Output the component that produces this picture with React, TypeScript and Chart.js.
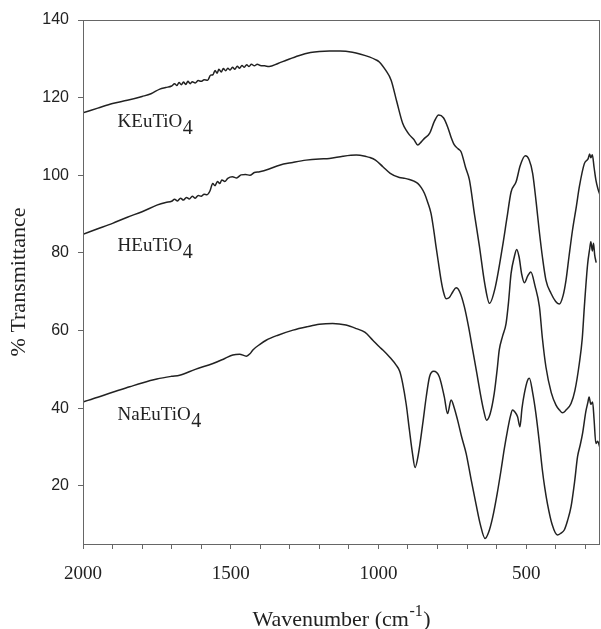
import React, { useEffect, useRef } from "react";
import { Chart, registerables } from "chart.js";

Chart.register(...registerables);

// ---- Data (wavenumber in cm-1, % transmittance) ----
const kWave = [2000, 1950, 1900, 1850, 1800, 1770, 1740, 1720, 1700, 1690, 1682, 1675, 1667, 1660, 1652, 1645, 1637, 1630, 1620, 1610, 1600, 1590, 1578, 1568, 1560, 1553, 1546, 1540, 1532, 1525, 1517, 1510, 1502, 1494, 1486, 1478, 1470, 1462, 1454, 1446, 1438, 1430, 1420, 1410, 1400, 1385, 1370, 1340, 1310, 1270, 1230, 1200, 1166, 1130, 1088, 1060, 1031, 1010, 997, 975, 957, 938, 918, 905, 895, 880, 867, 855, 844, 827, 810, 796, 780, 766, 755, 743, 730, 720, 705, 692, 675, 658, 640, 624, 605, 580, 565, 551, 534, 520, 503, 490, 478, 466, 456, 445, 433, 416, 400, 388, 375, 365, 355, 343, 330, 320, 303, 290, 285, 281, 276, 270, 264, 257, 250];
const kTrans = [116.1, 117.3, 118.5, 119.3, 120.3, 121.0, 122.2, 122.6, 123.0, 123.6, 123.1, 123.9, 123.3, 124.0, 123.4, 124.2, 123.6, 124.1, 123.8, 124.4, 124.2, 124.6, 124.5, 125.8, 125.9, 127.0, 126.3, 127.3, 126.6, 127.5, 126.9, 127.6, 127.1, 127.8, 127.3, 128.1, 127.6, 128.3, 127.8, 128.5, 128.0, 128.6, 128.2, 128.6, 128.3, 128.2, 128.0, 128.8, 129.7, 130.8, 131.6, 131.9, 132.0, 132.0, 131.7, 131.2, 130.5, 129.8, 129.2, 127.0, 124.5, 119.0, 113.4, 111.5, 110.4, 109.2, 107.8, 108.6, 109.5, 110.8, 114.0, 115.5, 114.8, 112.5, 110.0, 107.8, 106.8, 106.0, 102.0, 98.8, 90.0, 81.6, 72.0, 67.0, 71.0, 81.6, 89.0, 95.7, 98.3, 102.5, 105.0, 104.0, 100.5, 93.0, 85.9, 79.0, 73.0, 69.6, 67.5, 66.8, 69.0, 73.0, 79.0, 85.9, 92.0, 97.0, 103.0, 104.3, 105.5, 104.5, 105.3, 102.0, 98.8, 96.5, 94.9];

const hWave = [2000, 1950, 1900, 1850, 1800, 1750, 1720, 1700, 1690, 1680, 1670, 1660, 1650, 1640, 1630, 1620, 1610, 1600, 1590, 1580, 1570, 1561, 1553, 1545, 1537, 1530, 1520, 1510, 1494, 1480, 1465, 1450, 1435, 1420, 1402, 1370, 1335, 1290, 1245, 1200, 1166, 1120, 1075, 1040, 1030, 1010, 985, 960, 929, 910, 895, 880, 867, 855, 844, 833, 822, 813, 805, 796, 788, 780, 771, 760, 748, 737, 725, 709, 695, 681, 667, 653, 644, 634, 622, 608, 598, 591, 580, 568, 560, 551, 540, 532, 524, 515, 506, 495, 484, 470, 455, 445, 433, 415, 399, 387, 377, 365, 348, 335, 320, 310, 303, 292, 285, 281, 276, 272, 268, 263];
const hTrans = [84.8, 86.2, 87.6, 89.2, 90.6, 92.3, 93.0, 93.3, 93.8, 93.4, 94.1, 93.6, 94.3, 93.9, 94.6, 94.1, 94.8, 94.6, 95.1, 95.0, 96.0, 97.9, 97.3, 98.4, 97.9, 98.8, 98.4, 99.2, 99.6, 99.3, 100.1, 100.2, 100.0, 100.7, 100.9, 101.6, 102.6, 103.3, 103.9, 104.2, 104.3, 104.9, 105.2, 104.8, 104.6, 103.9, 102.2, 100.5, 99.4, 99.2, 98.9, 98.5, 97.9, 96.8, 95.3, 93.0, 90.2, 86.0, 81.6, 77.0, 73.0, 70.0, 68.2, 68.5, 70.0, 71.0, 70.0, 66.1, 61.0, 55.0, 49.0, 42.9, 39.5, 36.9, 38.5, 43.8, 50.0, 55.0, 58.5, 61.8, 67.0, 74.7, 79.0, 80.9, 79.0, 74.5, 72.3, 74.0, 75.1, 71.5, 66.1, 58.0, 50.6, 44.0, 40.8, 39.5, 38.8, 39.5, 41.2, 44.5, 51.5, 58.0, 66.1, 77.0, 81.0, 82.9, 80.5, 82.5, 79.5, 77.5];

const naWave = [2000, 1950, 1900, 1842, 1800, 1750, 1700, 1673, 1620, 1560, 1520, 1493, 1470, 1447, 1435, 1425, 1400, 1380, 1340, 1289, 1240, 1200, 1155, 1110, 1075, 1045, 1019, 997, 985, 960, 940, 928, 918, 906, 895, 885, 876, 865, 850, 838, 827, 813, 794, 777, 766, 754, 743, 732, 718, 703, 686, 670, 655, 639, 627, 613, 598, 585, 574, 563, 553, 546, 538, 529, 521, 514, 506, 495, 489, 478, 467, 455, 445, 437, 428, 412, 394, 382, 371, 360, 348, 336, 326, 317, 309, 298, 291, 287, 281, 275, 270, 264, 258, 251];
const naTrans = [41.6, 42.8, 44.1, 45.5, 46.5, 47.5, 48.2, 48.5, 50.0, 51.5, 52.8, 53.7, 53.9, 53.4, 54.0, 55.0, 56.5, 57.5, 58.8, 60.1, 61.0, 61.6, 61.8, 61.4, 60.5, 59.5, 57.5, 55.8, 55.0, 53.0, 51.1, 49.5, 46.4, 41.0, 34.3, 28.5, 24.7, 28.0, 36.0, 43.0, 48.1, 49.5, 48.1, 42.9, 38.6, 42.1, 40.0, 36.9, 32.5, 28.3, 21.5, 15.4, 10.0, 6.4, 8.0, 12.0, 18.0, 24.0, 29.5, 34.3, 38.0, 39.5, 39.0, 37.8, 35.2, 40.0, 43.8, 47.2, 47.7, 44.0, 38.6, 31.0, 24.0, 19.5, 15.4, 10.0, 7.3, 7.8, 8.6, 11.0, 14.6, 21.0, 27.5, 30.5, 33.5, 39.1, 41.5, 42.9, 41.0, 41.6, 37.0, 30.9, 31.5, 30.0];

const seriesNames = ["KEuTiO", "HEuTiO", "NaEuTiO"];
const labelWave = [1883, 1883, 1883];
const labelTrans = [112.5, 80.6, 36.9];

const xTickValues = [2000, 1900, 1800, 1700, 1600, 1500, 1400, 1300, 1200, 1100, 1000, 900, 800, 700, 600, 500, 400, 300];
const yTickValues = [20, 40, 60, 80, 100, 120, 140];

const toPoints = (w: number[], t: number[]) => w.map((x, i) => ({ x, y: t[i] }));

const decorPlugin = {
  id: "decor",
  afterDraw(chart: any) {
    const { ctx, chartArea } = chart;
    const { left, right, top, bottom } = chartArea;
    const xs = chart.scales.x;
    const ys = chart.scales.y;
    ctx.save();
    // frame
    ctx.strokeStyle = "#666";
    ctx.lineWidth = 1;
    ctx.strokeRect(Math.round(left) + 0.5, Math.round(top) + 0.5, Math.round(right - left) - 1, Math.round(bottom - top));
    // compound labels
    ctx.fillStyle = "#222";
    ctx.textBaseline = "alphabetic";
    ctx.textAlign = "left";
    seriesNames.forEach((name, i) => {
      const px = xs.getPixelForValue(labelWave[i]);
      const py = ys.getPixelForValue(labelTrans[i]);
      ctx.font = "19px 'Liberation Serif'";
      ctx.fillText(name, px, py);
      const w = ctx.measureText(name).width;
      ctx.font = "20px 'Liberation Serif'";
      ctx.fillText("4", px + w + 0.5, py + 7);
    });
    // y title
    ctx.save();
    ctx.translate(19, (top + bottom) / 2);
    ctx.rotate(-Math.PI / 2);
    ctx.textAlign = "center";
    ctx.textBaseline = "middle";
    ctx.font = "22px 'Liberation Serif'";
    ctx.fillText("% Transmittance", 0, 0);
    ctx.restore();
    // x title with superscript
    ctx.font = "22px 'Liberation Serif'";
    const p1 = "Wavenumber (cm";
    const p3 = ")";
    const w1 = ctx.measureText(p1).width;
    const w3 = ctx.measureText(p3).width;
    ctx.font = "16px 'Liberation Serif'";
    const p2 = "-1";
    const w2 = ctx.measureText(p2).width;
    const total = w1 + w2 + w3 + 1;
    const cx = (left + right) / 2;
    const base = 626;
    let x0 = cx - total / 2;
    ctx.textAlign = "left";
    ctx.textBaseline = "alphabetic";
    ctx.font = "22px 'Liberation Serif'";
    ctx.fillText(p1, x0, base);
    x0 += w1 + 0.5;
    ctx.font = "16px 'Liberation Serif'";
    ctx.fillText(p2, x0, base - 10);
    x0 += w2 + 0.5;
    ctx.font = "22px 'Liberation Serif'";
    ctx.fillText(p3, x0, base);
    ctx.restore();
  },
};

export default function App() {
  const canvasRef = useRef<HTMLCanvasElement | null>(null);

  useEffect(() => {
    if (!canvasRef.current) return;
    const lineStyle = {
      borderColor: "#222",
      borderWidth: 1.5,
      pointRadius: 0,
      fill: false,
      cubicInterpolationMode: "monotone" as const,
    };
    const chart = new Chart(canvasRef.current, {
      type: "line",
      data: {
        datasets: [
          { label: "KEuTiO4", data: toPoints(kWave, kTrans), ...lineStyle },
          { label: "HEuTiO4", data: toPoints(hWave, hTrans), ...lineStyle },
          { label: "NaEuTiO4", data: toPoints(naWave, naTrans), ...lineStyle },
        ],
      },
      options: {
        animation: false,
        responsive: true,
        maintainAspectRatio: false,
        layout: { padding: { top: 20, right: 1, left: 0, bottom: 0 } },
        plugins: { legend: { display: false }, tooltip: { enabled: false } },
        scales: {
          x: {
            type: "linear",
            reverse: true,
            min: 250,
            max: 2000,
            afterBuildTicks: (scale: any) => {
              scale.ticks = xTickValues.map((v) => ({ value: v }));
            },
            afterFit: (scale: any) => {
              scale.height = 85;
            },
            ticks: {
              autoSkip: false,
              maxRotation: 0,
              padding: 14,
              color: "#222",
              font: { family: "'Liberation Serif'", size: 19 },
              callback: (v: any) => (Number(v) % 500 === 0 ? String(v) : ""),
            },
            grid: { display: true, drawOnChartArea: false, drawTicks: true, tickLength: 5, color: "#666" },
            border: { display: false },
          },
          y: {
            type: "linear",
            min: 5,
            max: 140,
            afterBuildTicks: (scale: any) => {
              scale.ticks = yTickValues.map((v) => ({ value: v }));
            },
            afterFit: (scale: any) => {
              scale.width = 83;
            },
            ticks: {
              padding: 9,
              color: "#222",
              font: { family: "'Liberation Sans'", size: 16 },
            },
            grid: { display: true, drawOnChartArea: false, drawTicks: true, tickLength: 5, color: "#666" },
            border: { display: false },
          },
        },
      },
      plugins: [decorPlugin],
    });
    return () => chart.destroy();
  }, []);

  return (
    <div style={{ position: "fixed", left: 0, top: 0, width: 601, height: 629, background: "#fff" }}>
      <canvas ref={canvasRef} />
    </div>
  );
}
